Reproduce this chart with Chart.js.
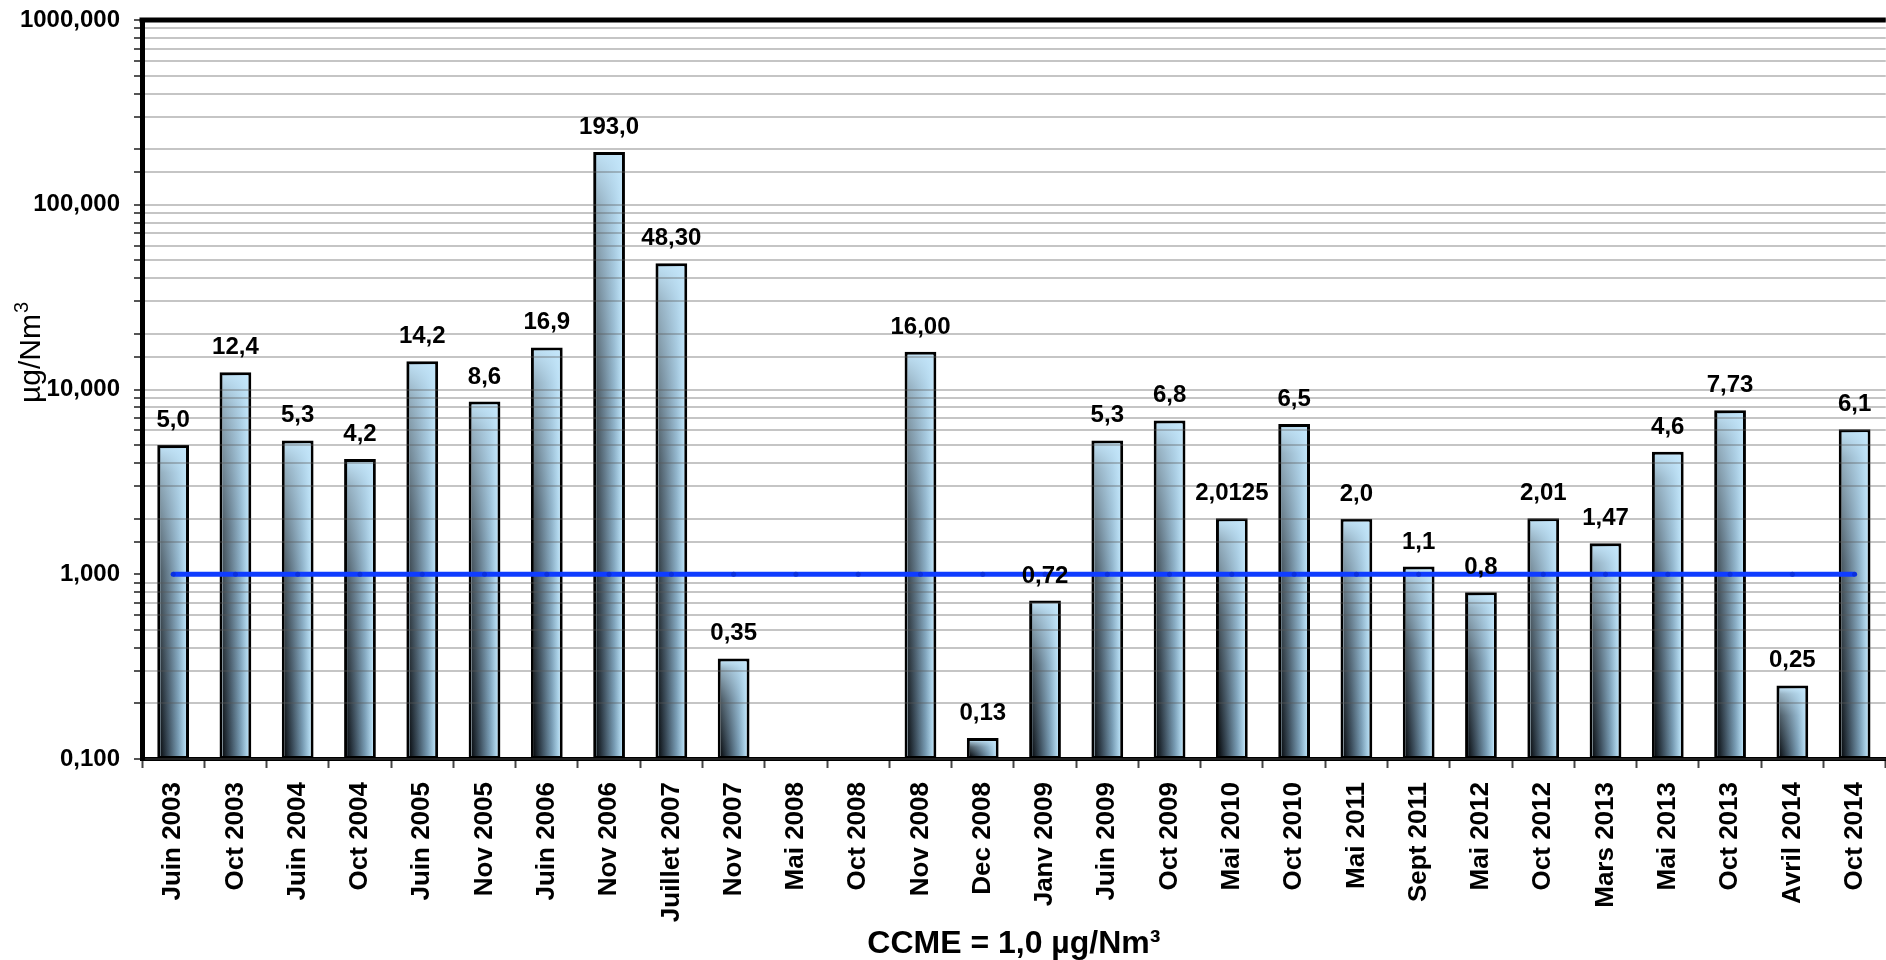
<!DOCTYPE html>
<html lang="fr">
<head>
<meta charset="utf-8">
<title>µg/Nm³ - CCME</title>
<script src="https://cdn.jsdelivr.net/npm/chart.js@4.4.1/dist/chart.umd.min.js"></script>
<style>
  html, body { margin: 0; padding: 0; background: #fff; overflow: hidden; }
  #wrap { position: relative; width: 1900px; height: 960px; }
</style>
</head>
<body>
<div id="wrap"><canvas id="graph"></canvas></div>
<script>
// campagnes de mesure
const categories = [
  "Juin 2003", "Oct 2003", "Juin 2004", "Oct 2004", "Juin 2005", "Nov 2005",
  "Juin 2006", "Nov 2006", "Juillet 2007", "Nov 2007", "Mai 2008", "Oct 2008",
  "Nov 2008", "Dec 2008", "Janv 2009", "Juin 2009", "Oct 2009", "Mai 2010",
  "Oct 2010", "Mai 2011", "Sept 2011", "Mai 2012", "Oct 2012", "Mars 2013",
  "Mai 2013", "Oct 2013", "Avril 2014", "Oct 2014"
];

// concentrations en µg/Nm³ (null = pas de mesure)
const concentrations = [
  5.0, 12.4, 5.3, 4.2, 14.2, 8.6,
  16.9, 193.0, 48.30, 0.35, null, null,
  16.00, 0.13, 0.72, 5.3, 6.8, 2.0125,
  6.5, 2.0, 1.1, 0.8, 2.01, 1.47,
  4.6, 7.73, 0.25, 6.1
];

// étiquettes telles qu'affichées au-dessus des barres
const valueLabels = [
  "5,0", "12,4", "5,3", "4,2", "14,2", "8,6",
  "16,9", "193,0", "48,30", "0,35", "", "",
  "16,00", "0,13", "0,72", "5,3", "6,8", "2,0125",
  "6,5", "2,0", "1,1", "0,8", "2,01", "1,47",
  "4,6", "7,73", "0,25", "6,1"
];

// norme CCME = 1,0 µg/Nm³
const ccmeLimit = [
  1.0, 1.0, 1.0, 1.0, 1.0, 1.0, 1.0, 1.0, 1.0, 1.0, 1.0, 1.0, 1.0, 1.0,
  1.0, 1.0, 1.0, 1.0, 1.0, 1.0, 1.0, 1.0, 1.0, 1.0, 1.0, 1.0, 1.0, 1.0
];

const yTickValues = [0.1, 1, 10, 100, 1000];
const yTickLabels = ["0,100", "1,000", "10,000", "100,000", "1000,000"];

const FONT = "'Liberation Sans', Arial, sans-serif";

// dégradé des barres : sombre en bas à gauche, bleu clair en haut
const barShade = {
  id: "barShade",
  afterDatasetDraw(chart, args) {
    if (args.index !== 1) return;
    const ctx = chart.ctx;
    const bw = 3;
    args.meta.data.forEach((bar, i) => {
      if (concentrations[i] == null) return;
      const p = bar.getProps(["x", "y", "base", "width"], true);
      const l = p.x - p.width / 2 + bw;
      const r = p.x + p.width / 2 - bw;
      const t = p.y + bw;
      const b = p.base - bw;
      if (b <= t) return;
      ctx.save();
      ctx.beginPath();
      ctx.rect(l, t, r - l, b - t);
      ctx.clip();
      const h = ctx.createLinearGradient(l, 0, r, 0);
      h.addColorStop(0, "rgb(10,14,18)");
      h.addColorStop(0.3, "rgb(55,72,86)");
      h.addColorStop(0.7, "rgb(118,154,178)");
      h.addColorStop(1, "rgb(182,222,244)");
      ctx.fillStyle = h;
      ctx.fillRect(l, t, r - l, b - t);
      const v = ctx.createLinearGradient(0, t, 0, b);
      v.addColorStop(0, "rgba(196,230,250,0.96)");
      v.addColorStop(0.08, "rgba(196,230,250,0.74)");
      v.addColorStop(0.4, "rgba(196,230,250,0.36)");
      v.addColorStop(1, "rgba(196,230,250,0)");
      ctx.fillStyle = v;
      ctx.fillRect(l, t, r - l, b - t);
      ctx.restore();
    });
  }
};

// valeurs au-dessus des barres, cadre du haut et titre de l'axe Y
const decorations = {
  id: "decorations",
  afterDraw(chart) {
    const ctx = chart.ctx;
    const area = chart.chartArea;
    const meta = chart.getDatasetMeta(1);

    ctx.save();
    ctx.strokeStyle = "#000";
    ctx.lineWidth = 5;
    ctx.beginPath();
    ctx.moveTo(area.left - 2.5, area.top);
    ctx.lineTo(area.right, area.top);
    ctx.stroke();

    ctx.fillStyle = "#000";
    ctx.font = "bold 24px " + FONT;
    ctx.textAlign = "center";
    ctx.textBaseline = "alphabetic";
    meta.data.forEach((bar, i) => {
      if (concentrations[i] == null) return;
      ctx.fillText(valueLabels[i], bar.x, bar.y - 18);
    });

    // µg/Nm³ vertical
    ctx.translate(40, 403);
    ctx.rotate(-Math.PI / 2);
    ctx.textAlign = "left";
    ctx.font = "30px " + FONT;
    ctx.fillText("µg/Nm", 0, 0);
    const w = ctx.measureText("µg/Nm").width;
    ctx.font = "20px " + FONT;
    ctx.fillText("3", w + 1, -12);
    ctx.restore();
  }
};

const ctx = document.getElementById("graph").getContext("2d");
const myChart = new Chart(ctx, {
  data: {
    labels: categories,
    datasets: [
      {
        type: "line",
        label: "CCME",
        data: ccmeLimit,
        borderColor: "#0f3cff",
        borderWidth: 5,
        pointRadius: 2.5,
        pointBackgroundColor: "#0b30dd",
        pointBorderWidth: 0,
        order: 0
      },
      {
        type: "bar",
        label: "µg/Nm³",
        data: concentrations,
        backgroundColor: "rgb(196,230,250)",
        borderColor: "#000",
        borderWidth: 3,
        borderSkipped: false,
        categoryPercentage: 1,
        barPercentage: 0.51,
        order: 1
      }
    ]
  },
  options: {
    responsive: true,
    maintainAspectRatio: false,
    animation: false,
    layout: { padding: { top: 20, right: 10, left: 0, bottom: 0 } },
    plugins: {
      legend: { display: false },
      tooltip: { enabled: false }
    },
    scales: {
      x: {
        offset: true,
        grid: {
          offset: true,
          drawOnChartArea: false,
          tickLength: 9,
          tickWidth: 2,
          tickColor: "#444"
        },
        border: { color: "#000", width: 4 },
        ticks: {
          color: "#000",
          font: { family: FONT, size: 26, weight: "bold" },
          minRotation: 90,
          maxRotation: 90,
          autoSkip: false,
          padding: 14
        },
        title: {
          display: true,
          text: "CCME = 1,0 µg/Nm³",
          color: "#000",
          font: { family: FONT, size: 32, weight: "bold", lineHeight: 1 },
          padding: { top: 0, bottom: 0 }
        },
        afterFit(scale) { scale.height = 201; }
      },
      y: {
        type: "logarithmic",
        min: 0.1,
        max: 1000,
        grid: {
          z: 1,
          lineWidth: 2,
          color: (c) => (c.tick && Math.abs(c.tick.value - 1) < 1e-9) ? "rgba(0,0,0,0)" : "rgba(90,90,90,0.35)",
          tickLength: 8,
          tickWidth: 2,
          tickColor: "#555"
        },
        border: { color: "#000", width: 5, z: 1 },
        ticks: {
          color: "#000",
          autoSkip: false,
          padding: 14,
          z: 1,
          font: { family: FONT, size: 24, weight: "bold" },
          callback(value) {
            const k = yTickValues.findIndex((t) => Math.abs(value / t - 1) < 1e-6);
            return k >= 0 ? yTickLabels[k] : "";
          }
        },
        afterFit(scale) {
          scale.width = 142;
          scale.paddingTop = 0;
          scale.paddingBottom = 0;
        }
      }
    }
  },
  plugins: [barShade, decorations]
});
</script>
</body>
</html>
